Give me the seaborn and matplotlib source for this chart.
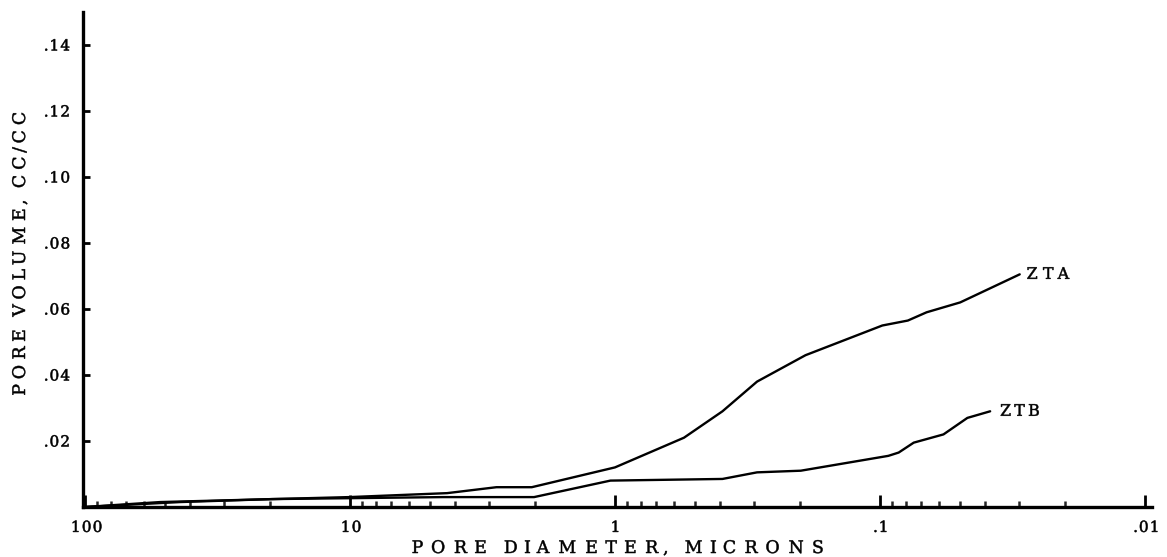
import numpy as np
import pandas as pd
import matplotlib
matplotlib.use("Agg")
import matplotlib.pyplot as plt
import matplotlib.patheffects as pe
from matplotlib.path import Path
from matplotlib.ticker import FixedLocator, FixedFormatter, NullFormatter, LogLocator
import seaborn as sns

# ---- data ----
zta_diam = [100, 52, 10.1, 4.3, 2.8, 2.06, 1.0, 0.549, 0.393, 0.291, 0.191, 0.098, 0.0785, 0.0667, 0.0498, 0.0297]
zta_vol = [0.0, 0.0015, 0.003, 0.0042, 0.006, 0.006, 0.012, 0.021, 0.029, 0.038, 0.046, 0.055, 0.0565, 0.059, 0.062, 0.0705]
ztb_diam = [100, 43.7, 19.7, 4.46, 2.02, 1.04, 0.393, 0.291, 0.199, 0.093, 0.085, 0.0746, 0.0576, 0.0468, 0.0384]
ztb_vol = [0.0, 0.0015, 0.0024, 0.003, 0.003, 0.008, 0.0085, 0.0105, 0.011, 0.0155, 0.0165, 0.0195, 0.022, 0.027, 0.029]
series_names = ["ZTA", "ZTB"]
x_ticks = [100, 10, 1, 0.1, 0.01]
x_ticklabels = ["100", "10", "1", ".1", ".01"]
y_ticks = [0.02, 0.04, 0.06, 0.08, 0.10, 0.12, 0.14]
y_ticklabels = [".02", ".04", ".06", ".08", ".10", ".12", ".14"]

df = pd.concat([
    pd.DataFrame({"diam": zta_diam, "vol": zta_vol, "sample": series_names[0]}),
    pd.DataFrame({"diam": ztb_diam, "vol": ztb_vol, "sample": series_names[1]}),
], ignore_index=True)

sns.set_theme(style="ticks")
plt.rcParams["font.family"] = ["DejaVu Serif", "DejaVu Sans"]


class Spread(pe.AbstractPathEffect):
    """Typewriter-like letter spacing: move each glyph outward from the
    text start without widening the glyphs themselves; slight ink spread."""
    def __init__(self, factor, ink=0.35):
        super().__init__()
        self.factor = factor
        self.ink = ink

    def draw_path(self, renderer, gc, tpath, affine, rgbFace=None):
        codes = tpath.codes
        gc0 = renderer.new_gc()
        gc0.copy_properties(gc)
        gc0.set_linewidth(self.ink)
        gc0.set_foreground("black")
        if codes is None:
            renderer.draw_path(gc0, tpath, affine, rgbFace)
            gc0.restore()
            return
        verts = np.array(tpath.vertices, dtype=float)
        starts = list(np.where(codes == Path.MOVETO)[0])
        ends = starts[1:] + [len(verts)]
        boxes = []
        for s, e in zip(starts, ends):
            m = codes[s:e] != Path.CLOSEPOLY
            v = verts[s:e][m]
            boxes.append((v[:, 0].min(), v[:, 0].max(), v[:, 1].min(), v[:, 1].max()))
        for i, (s, e) in enumerate(zip(starts, ends)):
            x0, x1, y0, y1 = boxes[i]
            cx = 0.5 * (x0 + x1)
            for j, (a0, a1, b0, b1) in enumerate(boxes):
                if j != i and a0 <= x0 and a1 >= x1 and b0 <= y0 and b1 >= y1 and (a1 - a0) > (x1 - x0):
                    cx = 0.5 * (a0 + a1)
                    break
            verts[s:e, 0] += (self.factor - 1.0) * cx
        renderer.draw_path(gc0, Path(verts, codes), affine, rgbFace)
        gc0.restore()


W, H = 1167, 557
fig = plt.figure(figsize=(W / 100, H / 100), dpi=100)
fig.patch.set_facecolor("white")
ax = fig.add_axes([83 / W, 50 / H, (1152 - 83) / W, 495 / H])
ax.set_facecolor("white")
ax.set_xscale("log")

sns.lineplot(data=df, x="diam", y="vol", hue="sample", palette=["black", "black"],
             estimator=None, sort=False, linewidth=1.7, legend=False, ax=ax)

ax.set_xlim(101.7, 0.00941)
ax.set_ylim(0, 0.15)

ax.xaxis.set_major_locator(FixedLocator(x_ticks))
ax.xaxis.set_major_formatter(FixedFormatter(x_ticklabels))
ax.xaxis.set_minor_locator(LogLocator(base=10, subs=np.arange(2, 10), numticks=20))
ax.xaxis.set_minor_formatter(NullFormatter())
ax.yaxis.set_major_locator(FixedLocator(y_ticks))
ax.yaxis.set_major_formatter(FixedFormatter(y_ticklabels))

ax.tick_params(axis="x", which="major", direction="in", length=9, width=2, pad=10,
               labelsize=11, colors="black")
ax.tick_params(axis="x", which="minor", direction="in", length=4, width=1.8)
ax.tick_params(axis="y", which="major", direction="in", length=5, width=2, pad=11,
               labelsize=11, colors="black")
for lbl in ax.get_xticklabels() + ax.get_yticklabels():
    lbl.set_path_effects([Spread(1.12, ink=0.4)])

for s in ["top", "right"]:
    ax.spines[s].set_visible(False)
for s in ["left", "bottom"]:
    ax.spines[s].set_linewidth(2.4)
    ax.spines[s].set_color("black")
ax.set_xlabel("")
ax.set_ylabel("")

# curve labels
lab_a = ax.annotate(series_names[0], xy=(zta_diam[-1], zta_vol[-1]), xytext=(3, 0),
                    textcoords="offset points", ha="left", va="center",
                    fontsize=11.5, family="DejaVu Serif", color="black")
lab_b = ax.annotate(series_names[1], xy=(ztb_diam[-1], ztb_vol[-1]), xytext=(6, 0),
                    textcoords="offset points", ha="left", va="center",
                    fontsize=11.5, family="DejaVu Serif", color="black")

# axis titles (letter-spaced typewriter look)
xl = fig.text(408 / W, (H - 553) / H, "PORE DIAMETER, MICRONS", ha="left", va="baseline",
              fontsize=12.5, family="DejaVu Serif", color="black")
yl = fig.text(25 / W, (H - 398) / H, "PORE VOLUME, CC/CC", ha="left", va="baseline",
              rotation=90, rotation_mode="anchor",
              fontsize=12.5, family="DejaVu Serif", color="black")

fig.canvas.draw()
r = fig.canvas.get_renderer()
xl.set_path_effects([Spread(422 / xl.get_window_extent(r).width)])
yl.set_path_effects([Spread(290 / yl.get_window_extent(r).height)])
lab_a.set_path_effects([Spread(48 / lab_a.get_window_extent(r).width)])
lab_b.set_path_effects([Spread(43 / lab_b.get_window_extent(r).width)])

fig.savefig("out.png", dpi=100, facecolor="white")
